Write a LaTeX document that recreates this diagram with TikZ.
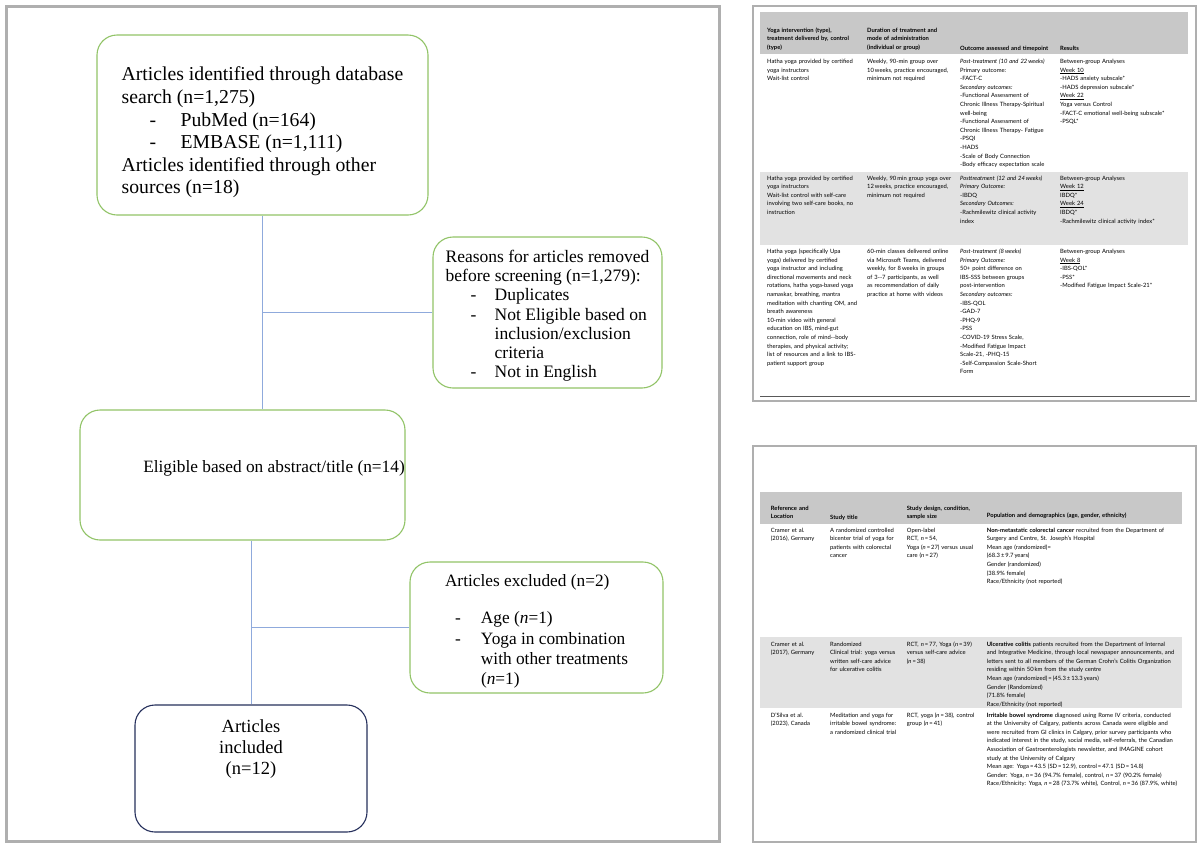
\documentclass[tikz,border=0pt]{standalone}
\usepackage{fontspec}
\setmainfont{Liberation Serif}
\newfontfamily\tabfont{Lato}
\usetikzlibrary{positioning,calc}
\definecolor{boxgreen}{RGB}{146,196,104}
\definecolor{boxnavy}{RGB}{38,48,92}
\definecolor{linkblue}{RGB}{143,170,220}
\definecolor{framegray}{RGB}{175,175,175}
\definecolor{headgray}{RGB}{200,200,200}
\definecolor{rowgray}{RGB}{226,226,226}
\newcommand{\flowdash}{\hspace*{28pt}\makebox[31pt][l]{-}}
\newcommand{\nn}{\textit{n}\,=\,}

\begin{document}
\begin{tikzpicture}[x=1pt,y=-1pt,
  flowbox/.style={draw=boxgreen, line width=1.1pt, rounded corners=20pt, align=left,
    inner sep=0pt, font=\fontsize{19.7}{22.6}\selectfont},
  link/.style={draw=linkblue, line width=0.8pt},
  cell/.style={anchor=base west, inner sep=0pt, text width=210pt, align=left,
    font=\tabfont\fontsize{5.85}{8.6}\selectfont},
  headcell/.style={cell, font=\tabfont\bfseries\fontsize{5.85}{8.6}\selectfont}]
  \useasboundingbox (0,0) rectangle (1200,847);
  \fill[white] (0,0) rectangle (1200,847);

  % frames
  \draw[framegray, line width=3pt] (6,6) rectangle (719,841);
  \draw[framegray, line width=2pt] (753,6) rectangle (1196,401);
  \draw[framegray, line width=2pt] (753,446) rectangle (1196,842);

  % flow diagram
  \node[flowbox, minimum width=331pt, minimum height=180pt] (ident) at (262.5,125)
    {\rule{0pt}{29pt}Articles identified through database\\ search (n=1,275)\\
     \flowdash PubMed (n=164)\\ \flowdash EMBASE (n=1,111)\\
     Articles identified through other\\ sources (n=18)};
  \node[flowbox, minimum width=229pt, minimum height=151pt,
    font=\fontsize{17.5}{19.2}\selectfont] (removed) at (547.5,312.5)
    {\rule{0pt}{19pt}Reasons for articles removed\\ before screening (n=1,279):\\
     \hspace*{25pt}\makebox[24pt][l]{-}Duplicates\\
     \hspace*{25pt}\makebox[24pt][l]{-}Not Eligible based on\\
     \hspace*{49pt}inclusion/exclusion\\ \hspace*{49pt}criteria\\
     \hspace*{25pt}\makebox[24pt][l]{-}Not in English};
  \node[flowbox, minimum width=325pt, minimum height=130pt,
    font=\fontsize{17.3}{20}\selectfont] (elig) at (242.5,475)
    {\hspace*{63pt}Eligible based on abstract/title (n=14)\rule[-18pt]{0pt}{18pt}};
  \node[flowbox, minimum width=253pt, minimum height=131pt,
    font=\fontsize{17.3}{20.2}\selectfont] (excl) at (536.5,627.5)
    {\rule{0pt}{20pt}Articles excluded (n=2)\\[17pt]
     \hspace*{10pt}\makebox[26pt][l]{-}Age (\textit{n}=1)\\
     \hspace*{10pt}\makebox[26pt][l]{-}Yoga in combination\\
     \hspace*{36pt}with other treatments\\ \hspace*{36pt}(\textit{n}=1)};
  \node[flowbox, draw=boxnavy, minimum width=232pt, minimum height=127pt, align=center,
    font=\fontsize{18.5}{21}\selectfont] (incl) at (251,768.5)
    {Articles\\ included\\ (n=12)\rule[-43pt]{0pt}{43pt}};

  \draw[link] (ident.south) -- (ident.south |- elig.north);
  \draw[link] (ident.south |- removed.west) -- (removed.west);
  \draw[link] (elig.south -| incl.north) -- (incl.north);
  \draw[link] (incl.north |- excl.west) -- (excl.west);

  % top table
  \fill[headgray] (760,12) rectangle (1188,54);
  \fill[rowgray] (760,172) rectangle (1188,245);
  \draw[gray!70!black, line width=0.8pt] (760,396) -- (1190,396);
  \node[headcell] (ta1) at (767,32) {Yoga intervention (type),\\ treatment delivered by, control\\ (type)};
  \node[headcell] (ta2) at (867,32) {Duration of treatment and\\ mode of administration\\ (individual or group)};
  \node[headcell] (ta3) at (960,50) {Outcome assessed and timepoint};
  \node[headcell] (ta4) at (1060,50) {Results};

  \node[cell] (tb1) at (767,63.5) {Hatha yoga provided by certified\\ yoga instructors\\ Wait-list control};
  \node[cell] (tb2) at (867,63.5) {Weekly, 90-min group over\\ 10\,weeks, practice encouraged,\\ minimum not required};
  \node[cell] (tb3) at (960,63.5) {\textit{Post-treatment (10 and 22\,weeks)}\\ Primary outcome:\\ -FACT-C\\
    \textit{Secondary outcomes:}\\ -Functional Assessment of\\ Chronic Illness Therapy-Spiritual\\ well-being\\
    -Functional Assessment of\\ Chronic Illness Therapy- Fatigue\\ -PSQI\\ -HADS\\ -Scale of Body Connection\\
    -Body efficacy expectation scale};
  \node[cell] (tb4) at (1060,63.5) {Between-group Analyses\\ \underline{Week 10}\\ -HADS anxiety subscale*\\
    -HADS depression subscale*\\ \underline{Week 22}\\ Yoga versus Control\\
    -FACT-C emotional well-being subscale*\\ -PSQL*};

  \node[cell] (tc1) at (767,180) {Hatha yoga provided by certified\\ yoga instructors\\ Wait-list control with self-care\\
    involving two self-care books, no\\ instruction};
  \node[cell] (tc2) at (867,180) {Weekly, 90\,min group yoga over\\ 12\,weeks, practice encouraged,\\ minimum not required};
  \node[cell] (tc3) at (960,180) {\textit{Posttreatment (12 and 24\,weeks)}\\ \textit{Primary Outcome:}\\ -IBDQ\\
    \textit{Secondary Outcomes:}\\ -Rachmilewitz clinical activity\\ index};
  \node[cell] (tc4) at (1060,180) {Between-group Analyses\\ \underline{Week 12}\\ IBDQ*\\ \underline{Week 24}\\ IBDQ*\\
    -Rachmilewitz clinical activity index*};

  \node[cell] (td1) at (767,253.5) {Hatha yoga (specifically Upa\\ yoga) delivered by certified\\
    yoga instructor and including\\ directional movements and neck\\ rotations, hatha yoga-based yoga\\
    namaskar, breathing, mantra\\ meditation with chanting OM, and\\ breath awareness\\
    10-min video with general\\ education on IBS, mind-gut\\ connection, role of mind--body\\
    therapies, and physical activity;\\ list of resources and a link to IBS-\\ patient support group};
  \node[cell] (td2) at (867,253.5) {60-min classes delivered online\\ via Microsoft Teams, delivered\\
    weekly, for 8\,weeks in groups\\ of 3--7 participants, as well\\ as recommendation of daily\\
    practice at home with videos};
  \node[cell] (td3) at (960,253.5) {\textit{Post-treatment (8\,weeks)}\\ \textit{Primary Outcome:}\\
    50+ point difference on\\ IBS-SSS between groups\\ post-intervention\\ \textit{Secondary outcomes:}\\
    -IBS-QOL\\ -GAD-7\\ -PHQ-9\\ -PSS\\ -COVID-19 Stress Scale,\\ -Modified Fatigue Impact\\
    Scale-21, -PHQ-15\\ -Self-Compassion Scale-Short\\ Form};
  \node[cell] (td4) at (1060,253.5) {Between-group Analyses\\ \underline{Week 8}\\ -IBS-QOL*\\ -PSS*\\
    -Modified Fatigue Impact Scale-21*};

  % bottom table
  \fill[headgray] (760,492) rectangle (1182,524);
  \fill[rowgray] (760,637) rectangle (1182,708);
  \node[headcell] (ba1) at (770.7,510) {Reference and\\ Location};
  \node[headcell] (ba2) at (830,519) {Study title};
  \node[headcell] (ba3) at (906.7,510) {Study design, condition,\\ sample size};
  \node[headcell] (ba4) at (986.7,517) {Population and demographics (age, gender, ethnicity)};

  \node[cell] (bb1) at (770.7,532) {Cramer et al.\\ (2016), Germany};
  \node[cell] (bb2) at (830,532) {A randomized controlled\\ bicenter trial of yoga for\\ patients with colorectal\\ cancer};
  \node[cell] (bb3) at (906.7,532) {Open-label\\ RCT, \nn54,\\ Yoga (\nn27) versus usual\\ care (\nn27)};
  \node[cell] (bb4) at (986.7,532) {\textbf{Non-metastatic colorectal cancer} recruited from the Department of\\
    Surgery and Centre, St. Joseph’s Hospital\\ Mean age (randomized)=\\ (68.3\,±\,9.7\,years)\\
    Gender (randomized)\\ (38.9\% female)\\ Race/Ethnicity (not reported)};

  \node[cell] (bc1) at (770.7,646) {Cramer et al.\\ (2017), Germany};
  \node[cell] (bc2) at (830,646) {Randomized\\ Clinical trial: yoga versus\\ written self-care advice\\ for ulcerative colitis};
  \node[cell] (bc3) at (906.7,646) {RCT, \nn77, Yoga (\nn39)\\ versus self-care advice\\ (\nn38)};
  \node[cell] (bc4) at (986.7,646) {\textbf{Ulcerative colitis} patients recruited from the Department of Internal\\
    and Integrative Medicine, through local newspaper announcements, and\\
    letters sent to all members of the German Crohn’s Colitis Organization\\
    residing within 50\,km from the study centre\\ Mean age (randomized)\,=\,(45.3\,±\,13.3\,years)\\
    Gender (Randomized)\\ (71.8\% female)\\ Race/Ethnicity (not reported)};

  \node[cell] (bd1) at (770.7,717) {D’Silva et al.\\ (2023), Canada};
  \node[cell] (bd2) at (830,717) {Meditation and yoga for\\ irritable bowel syndrome:\\ a randomized clinical trial};
  \node[cell] (bd3) at (906.7,717) {RCT, yoga (\nn38), control\\ group (\nn41)};
  \node[cell] (bd4) at (986.7,717) {\textbf{Irritable bowel syndrome} diagnosed using Rome IV criteria, conducted\\
    at the University of Calgary, patients across Canada were eligible and\\
    were recruited from GI clinics in Calgary, prior survey participants who\\
    indicated interest in the study, social media, self-referrals, the Canadian\\
    Association of Gastroenterologists newsletter, and IMAGINE cohort\\
    study at the University of Calgary\\
    Mean age: Yoga\,=\,43.5 (SD\,=\,12.9), control\,=\,47.1 (SD\,=\,14.8)\\
    Gender: Yoga, \nn36 (94.7\% female), control, \nn37 (90.2\% female)\\
    Race/Ethnicity: Yoga, \nn28 (73.7\% white), Control, \nn36 (87.9\%, white)};
\end{tikzpicture}
\end{document}
